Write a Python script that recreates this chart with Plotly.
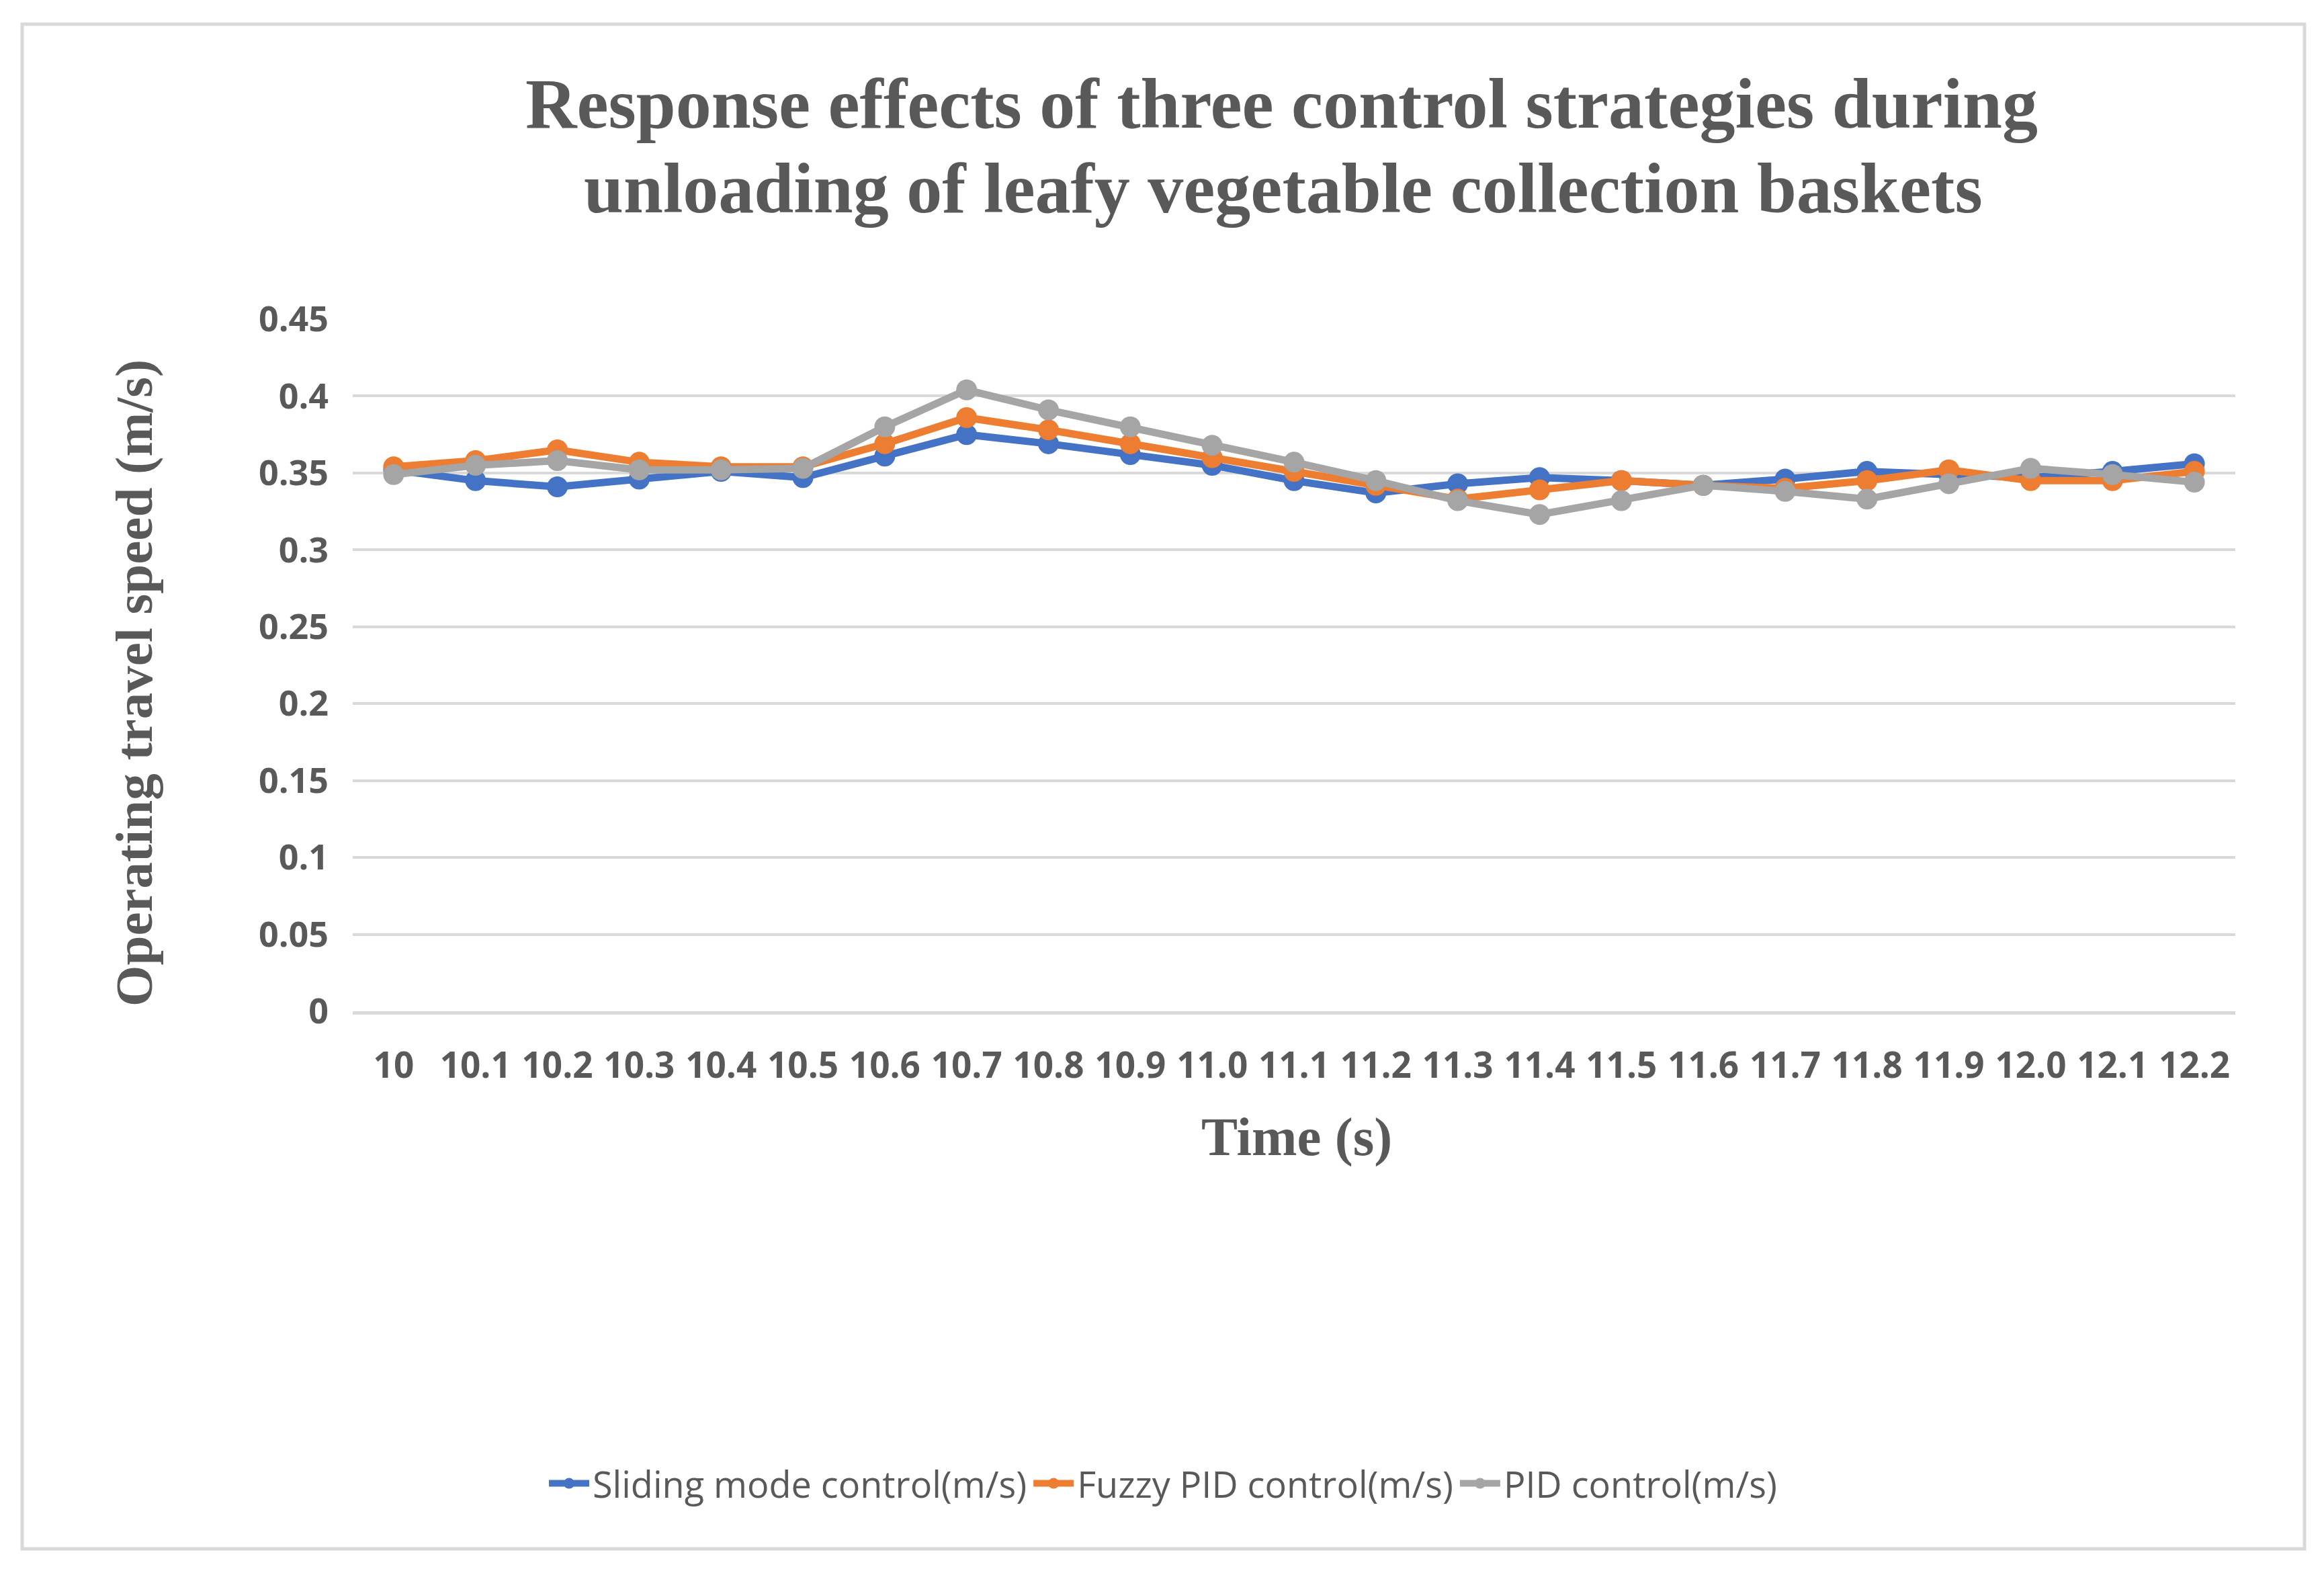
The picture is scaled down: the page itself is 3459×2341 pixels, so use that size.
import plotly.graph_objects as go

# ---- data ----
time_labels = ["10", "10.1", "10.2", "10.3", "10.4", "10.5", "10.6", "10.7", "10.8", "10.9",
               "11.0", "11.1", "11.2", "11.3", "11.4", "11.5", "11.6", "11.7", "11.8", "11.9",
               "12.0", "12.1", "12.2"]
sliding_mode = [0.352, 0.345, 0.341, 0.346, 0.351, 0.347, 0.361, 0.375, 0.369, 0.362,
                0.355, 0.345, 0.337, 0.343, 0.347, 0.345, 0.342, 0.346, 0.351, 0.349,
                0.347, 0.351, 0.356]
fuzzy_pid = [0.354, 0.358, 0.365, 0.357, 0.354, 0.354, 0.369, 0.386, 0.378, 0.369,
             0.360, 0.351, 0.342, 0.333, 0.339, 0.345, 0.342, 0.340, 0.345, 0.352,
             0.345, 0.345, 0.351]
pid = [0.349, 0.355, 0.358, 0.352, 0.352, 0.353, 0.380, 0.404, 0.391, 0.380,
       0.368, 0.357, 0.345, 0.332, 0.323, 0.332, 0.342, 0.338, 0.333, 0.343,
       0.353, 0.349, 0.344]
series_names = ["Sliding mode control(m/s)", "Fuzzy PID control(m/s)", "PID control(m/s)"]
y_tick_vals = [0, 0.05, 0.1, 0.15, 0.2, 0.25, 0.3, 0.35, 0.4, 0.45]
y_tick_text = ["0", "0.05", "0.1", "0.15", "0.2", "0.25", "0.3", "0.35", "0.4", "0.45"]
title_lines = ["Response effects of three control strategies during",
               "unloading of leafy vegetable collection baskets"]
x_title = "Time (s)"
y_title = "Operating travel speed (m/s)"

# ---- layout geometry (pixels) ----
W, H = 3459, 2341
L, R, T, B = 525, 132, 475, 836
PW, PH = W - L - R, H - T - B


def px(x):
    return (x - L) / PW


def py(y):
    return (H - B - y) / PH


colors = ["#4472C4", "#ED7D31", "#A5A5A5"]
text_col = "#595959"
grid_col = "#D9D9D9"

fig = go.Figure()
for name, vals, col in zip(series_names, [sliding_mode, fuzzy_pid, pid], colors):
    fig.add_trace(go.Scatter(
        x=time_labels, y=vals, name=name, mode="lines+markers",
        line=dict(color=col, width=11),
        marker=dict(color=col, size=31, symbol="circle"),
    ))

serif = "Liberation Serif, Times New Roman, serif"
annotations = [
    dict(text=title_lines[0], x=px(1907), y=py(154), xref="paper", yref="paper",
         xanchor="center", yanchor="middle", showarrow=False,
         font=dict(family=serif, size=106, color=text_col, weight="bold")),
    dict(text=title_lines[1], x=px(1910), y=py(281), xref="paper", yref="paper",
         xanchor="center", yanchor="middle", showarrow=False,
         font=dict(family=serif, size=106, color=text_col, weight="bold")),
    dict(text=x_title, x=px(1930), y=py(1692), xref="paper", yref="paper",
         xanchor="center", yanchor="middle", showarrow=False,
         font=dict(family=serif, size=81, color=text_col, weight="bold")),
    dict(text=y_title, x=px(199), y=py(1017), xref="paper", yref="paper",
         xanchor="center", yanchor="middle", showarrow=False, textangle=-90,
         font=dict(family=serif, size=79, color=text_col, weight="bold")),
]

fig.update_layout(
    width=W, height=H,
    template="none",
    paper_bgcolor="white", plot_bgcolor="white",
    margin=dict(l=L, r=R, t=T, b=B, autoexpand=False),
    showlegend=True,
    legend=dict(orientation="h", x=px(1731), y=py(2208), xanchor="center", yanchor="middle",
                font=dict(family="Open Sans", size=54, color=text_col),
                itemwidth=60, bgcolor="rgba(0,0,0,0)", traceorder="normal"),
    annotations=annotations,
    shapes=[dict(type="rect", xref="paper", yref="paper",
                 x0=px(33), x1=px(3430), y0=py(2305), y1=py(36),
                 line=dict(color=grid_col, width=5), layer="below")],
)
fig.update_xaxes(
    type="category", range=[-0.5, len(time_labels) - 0.5],
    showgrid=False, showline=True, linecolor=grid_col, linewidth=5,
    ticks="", zeroline=False, automargin=False,
    tickfont=dict(family="Open Sans", size=53, color=text_col, weight="bold"),
    ticklabelstandoff=30,
)
fig.update_yaxes(
    range=[0, 0.45], tickvals=y_tick_vals, ticktext=y_tick_text,
    showgrid=True, gridcolor=grid_col, gridwidth=4,
    showline=False, zeroline=False, ticks="", automargin=False,
    tickfont=dict(family="Open Sans", size=52, color=text_col, weight="bold"),
    ticklabelstandoff=35,
)

fig.write_html("out.html")
